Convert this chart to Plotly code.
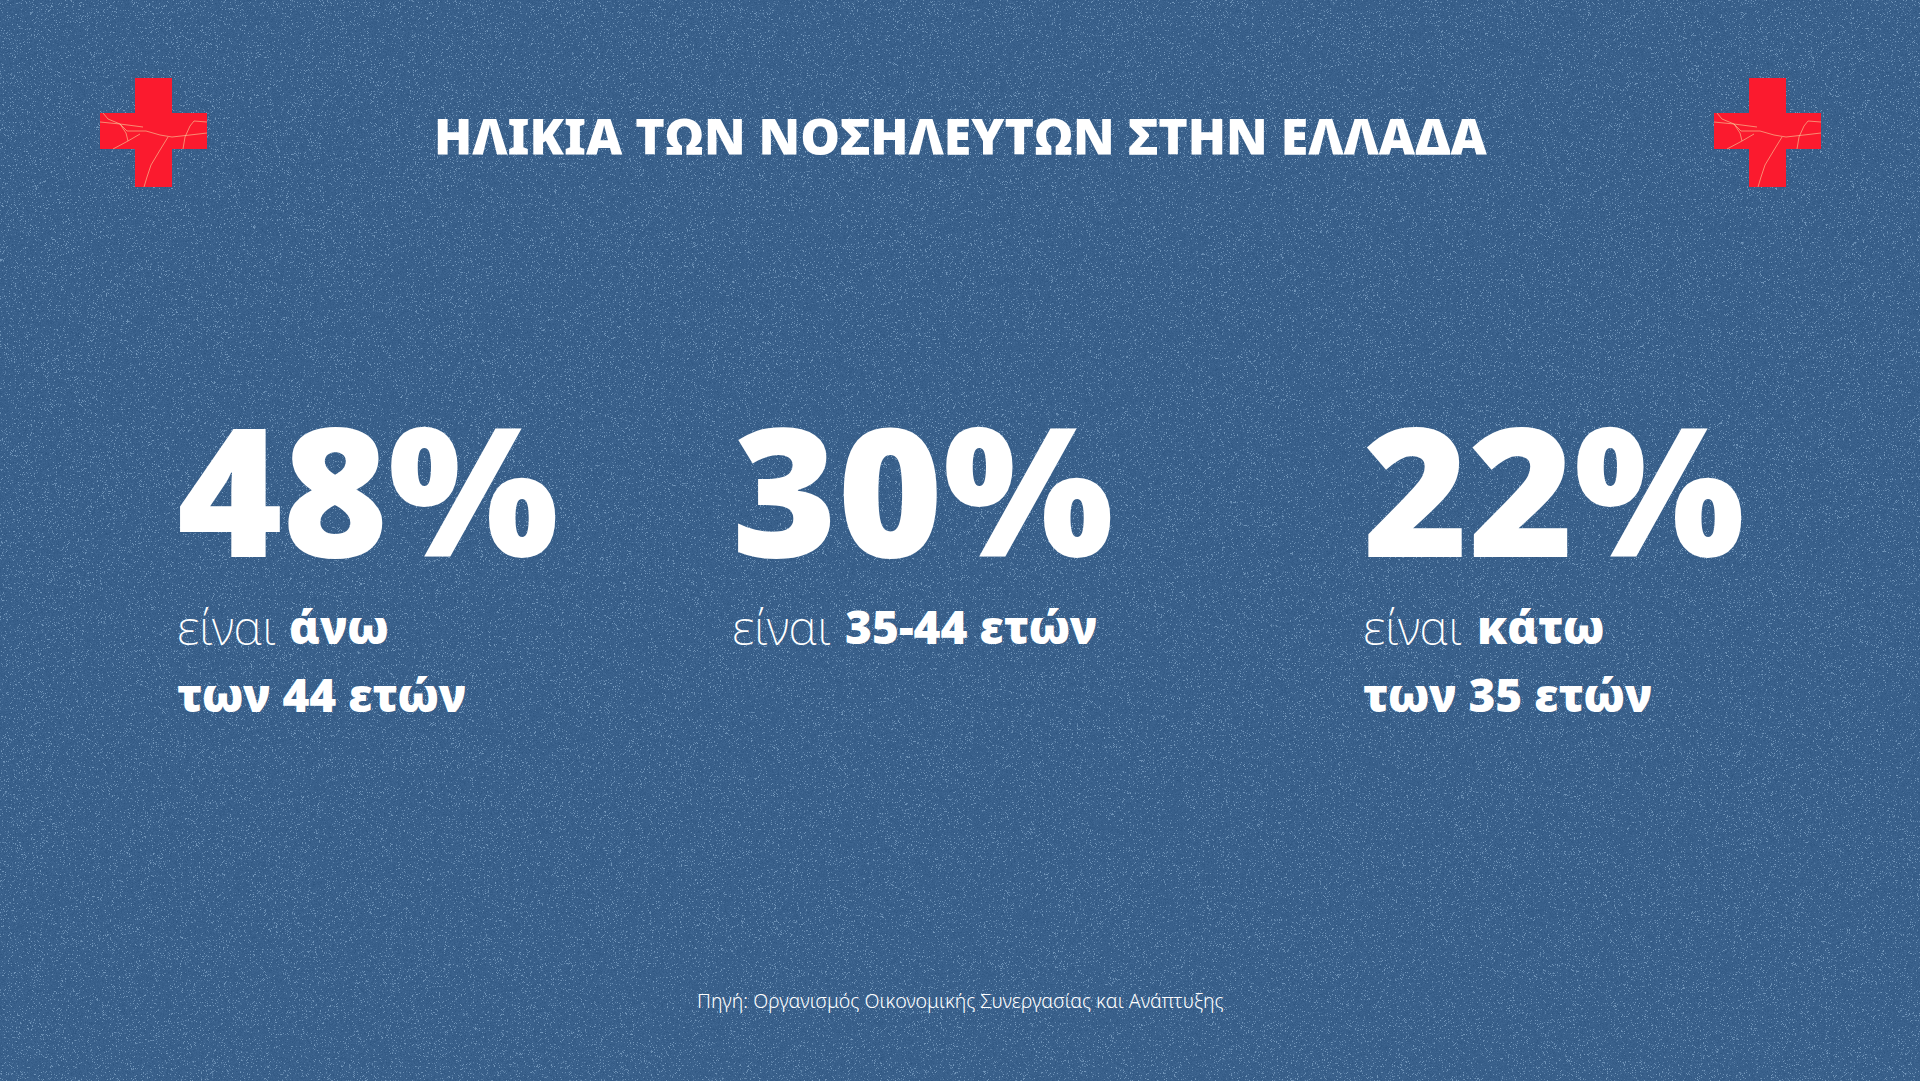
import base64, struct, zlib
import numpy as np
import plotly.graph_objects as go

# --- chart content ---
title = "ΗΛΙΚΙΑ ΤΩΝ ΝΟΣΗΛΕΥΤΩΝ ΣΤΗΝ ΕΛΛΑΔΑ"
shares = [48, 30, 22]
light_words = ["είναι ", "είναι ", "είναι "]
bold_first = ["άνω", "35-44 ετών", "κάτω"]
bold_second = ["των 44 ετών", "", "των 35 ετών"]
source = "Πηγή: Οργανισμός Οικονομικής Συνεργασίας και Ανάπτυξης"

# --- layout ---
W, H = 1920, 1081
col_x = [175, 730, 1361]
bold_x = [287, 843, 1475]
BG = (57, 96, 139)
HEAVY = "Noto Sans"
THIN = "Noto Sans"


def grain_png(w, h):
    """Decorative paper grain for the slide background."""
    rng = np.random.default_rng(7)
    img = np.zeros((h, w, 3), dtype=float) + np.array(BG)
    img += rng.normal(0, 3.5, (h, w, 1))
    mask = rng.random((h, w)) < 0.09
    amt = rng.uniform(0.25, 0.75, (h, w, 1))
    light = np.array((140, 175, 208.0))
    img = np.where(mask[..., None], img * (1 - amt) + light * amt, img)
    raw = np.clip(img, 0, 255).astype(np.uint8)
    rows = np.concatenate([np.zeros((h, 1), np.uint8), raw.reshape(h, -1)], axis=1).tobytes()

    def chunk(t, d):
        return struct.pack(">I", len(d)) + t + d + struct.pack(">I", zlib.crc32(t + d))

    png = (b"\x89PNG\r\n\x1a\n" + chunk(b"IHDR", struct.pack(">IIBBBBB", w, h, 8, 2, 0, 0, 0))
           + chunk(b"IDAT", zlib.compress(rows, 6)) + chunk(b"IEND", b""))
    return "data:image/png;base64," + base64.b64encode(png).decode()


def cross_shapes(dx):
    shapes = [dict(type="path", layer="above", line_width=0, fillcolor="#fb1a2e",
                   path=f"M{135+dx},78 H{172+dx} V113 H{207+dx} V149 H{172+dx} V187 H{135+dx} V149 H{100+dx} V113 H{135+dx} Z")]
    cracks = [
        [(127, 131), (146, 131), (160, 135), (172, 137), (190, 135), (207, 133)],
        [(103, 113), (108, 119), (120, 124), (127, 131)],
        [(100, 122), (120, 124), (143, 127)],
        [(120, 124), (126, 133), (128, 141)],
        [(113, 149), (128, 141), (140, 134)],
        [(168, 137), (160, 150), (151, 165), (147, 177), (144, 187)],
        [(183, 149), (185, 137), (190, 126), (194, 121), (207, 122)],
    ]
    for c in cracks:
        p = "M" + " L".join(f"{x+dx},{y}" for x, y in c)
        shapes.append(dict(type="path", layer="above", path=p,
                           line=dict(color="rgba(247,214,160,0.75)", width=0.8)))
    return shapes


def label(x, y, text, size, family, weight, anchor="left"):
    return dict(x=x, y=y, xref="x", yref="y", text=text, showarrow=False, xanchor=anchor, yanchor="middle",
                align=anchor, font=dict(family=family, size=size, weight=weight, color="white"))


ann = [label(960, 136, title, 50, HEAVY, 900, "center"),
       label(960, 1000, source, 19.6, THIN, 300, "center")]
for i, v in enumerate(shares):
    ann.append(label(col_x[i], 487, f"{v}%", 180, HEAVY, 900))
    ann.append(label(col_x[i], 626, light_words[i].strip(), 48, THIN, 200))
    ann.append(label(bold_x[i], 626, bold_first[i], 46, HEAVY, 900))
    if bold_second[i]:
        ann.append(label(col_x[i], 694, bold_second[i], 46, HEAVY, 900))

fig = go.Figure()
fig.update_layout(
    width=W, height=H, margin=dict(l=0, r=0, t=0, b=0), autosize=False,
    paper_bgcolor="rgb(57,96,139)", plot_bgcolor="rgb(57,96,139)",
    xaxis=dict(range=[0, W], visible=False, fixedrange=True),
    yaxis=dict(range=[H, 0], visible=False, fixedrange=True),
    annotations=ann,
    shapes=cross_shapes(0) + cross_shapes(1614),
    images=[dict(source=grain_png(W, H), xref="paper", yref="paper", x=0, y=1, sizex=1, sizey=1,
                 xanchor="left", yanchor="top", sizing="stretch", layer="below")],
    showlegend=False,
)
fig.write_html("out.html", config=dict(displayModeBar=False),
               post_script="document.body.style.margin='0';")
